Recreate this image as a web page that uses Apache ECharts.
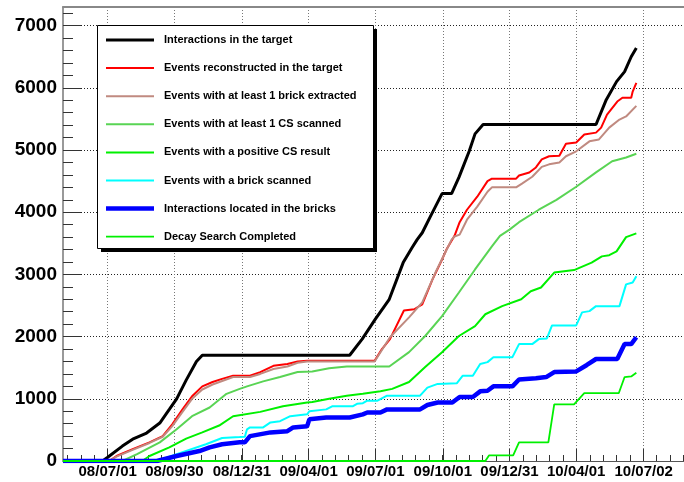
<!DOCTYPE html>
<html><head><meta charset="utf-8">
<script src="https://cdn.jsdelivr.net/npm/echarts@6/dist/echarts.min.js"></script>
<style>html,body{margin:0;padding:0;background:#fff}#c{width:684px;height:482px}</style>
</head><body><div id="c"></div>
<script>
// ---------- DATA ----------
const seriesNames = [
  'Interactions in the target',
  'Events reconstructed in the target',
  'Events with at least 1 brick extracted',
  'Events with at least 1 CS scanned',
  'Events with a positive CS result',
  'Events with a brick scanned',
  'Interactions located in the bricks',
  'Decay Search Completed'
];
const xRange = ['2008-05-01', '2010-08-26'];
const xTickDates = ['2008-07-01','2008-09-30','2008-12-31','2009-04-01','2009-07-01','2009-10-01','2009-12-31','2010-04-01','2010-07-02'];
const yTickValues = [0,1000,2000,3000,4000,5000,6000,7000];
const yMax = 7300;

const interactionsTarget = [
  ['2008-05-01',0],['2008-06-24',0],['2008-07-01',60],['2008-07-21',240],['2008-08-04',350],['2008-08-23',450],
  ['2008-09-10',610],['2008-09-23',830],['2008-10-03',1000],['2008-10-16',1300],['2008-10-30',1600],['2008-11-07',1700],
  ['2009-05-27',1700],['2009-06-13',1960],['2009-07-01',2280],['2009-07-20',2600],['2009-08-08',3190],['2009-08-20',3430],
  ['2009-08-27',3560],['2009-09-03',3670],['2009-09-14',3930],['2009-09-30',4300],['2009-10-13',4300],['2009-10-23',4560],
  ['2009-11-06',4980],['2009-11-14',5260],['2009-11-25',5410],['2010-04-28',5410],['2010-05-12',5810],['2010-05-26',6100],
  ['2010-06-06',6260],['2010-06-15',6500],['2010-06-22',6640]
];
const reconstructed = [
  ['2008-05-01',0],['2008-07-03',0],['2008-07-13',80],['2008-08-04',190],['2008-08-27',300],['2008-09-14',400],
  ['2008-09-27',590],['2008-10-11',830],['2008-10-24',1040],['2008-11-07',1200],['2008-11-21',1270],['2008-12-04',1320],
  ['2008-12-19',1370],['2009-01-11',1370],['2009-01-25',1430],['2009-02-12',1530],['2009-03-03',1560],['2009-03-17',1600],
  ['2009-03-30',1610],['2009-06-30',1610],['2009-07-10',1800],['2009-07-21',1960],['2009-08-09',2420],['2009-08-23',2440],
  ['2009-09-03',2520],['2009-09-17',2920],['2009-09-30',3240],['2009-10-06',3400],['2009-10-17',3620],['2009-10-24',3840],
  ['2009-11-03',4040],['2009-11-17',4250],['2009-12-01',4500],['2009-12-07',4540],['2010-01-09',4540],['2010-01-13',4590],
  ['2010-01-27',4640],['2010-02-05',4720],['2010-02-13',4850],['2010-02-23',4900],['2010-03-09',4910],['2010-03-18',5100],
  ['2010-04-01',5120],['2010-04-12',5250],['2010-04-28',5280],['2010-05-05',5360],['2010-05-13',5570],['2010-05-27',5780],
  ['2010-06-03',5840],['2010-06-15',5840],['2010-06-17',5940],['2010-06-22',6080]
];
const brickExtracted = [
  ['2008-05-01',0],['2008-07-03',0],['2008-07-13',70],['2008-08-04',180],['2008-08-27',290],['2008-09-14',390],
  ['2008-09-27',560],['2008-10-11',790],['2008-10-24',1000],['2008-11-07',1150],['2008-11-21',1230],['2008-12-19',1350],
  ['2009-01-11',1350],['2009-01-25',1400],['2009-02-12',1480],['2009-03-03',1520],['2009-03-17',1580],['2009-03-30',1600],
  ['2009-06-30',1600],['2009-07-21',1990],['2009-08-16',2310],['2009-09-03',2550],['2009-09-21',3030],['2009-10-13',3560],
  ['2009-10-17',3610],['2009-10-24',3640],['2009-11-03',3880],['2009-11-17',4090],['2009-12-01',4330],['2009-12-07',4400],
  ['2010-01-09',4400],['2010-01-17',4460],['2010-01-31',4570],['2010-02-13',4730],['2010-02-23',4770],['2010-03-09',4800],
  ['2010-03-18',4900],['2010-04-01',4980],['2010-04-19',5140],['2010-05-02',5170],['2010-05-16',5360],['2010-05-30',5490],
  ['2010-06-08',5540],['2010-06-22',5710]
];
const csScanned = [
  ['2008-05-01',0],['2008-07-21',0],['2008-08-10',110],['2008-09-10',300],['2008-10-03',510],['2008-10-24',720],
  ['2008-11-17',860],['2008-12-10',1080],['2008-12-28',1160],['2009-01-07',1200],['2009-01-29',1280],['2009-02-21',1350],
  ['2009-03-17',1430],['2009-04-06',1440],['2009-04-29',1490],['2009-05-23',1520],['2009-07-20',1520],['2009-08-16',1750],
  ['2009-09-07',2010],['2009-09-30',2330],['2009-10-23',2710],['2009-11-14',3080],['2009-12-07',3450],['2009-12-18',3620],
  ['2009-12-31',3720],['2010-01-13',3840],['2010-02-09',4040],['2010-03-05',4200],['2010-04-01',4410],['2010-04-28',4640],
  ['2010-05-20',4820],['2010-06-08',4880],['2010-06-22',4940]
];
const positiveCS = [
  ['2008-05-01',0],['2008-08-17',0],['2008-08-27',80],['2008-09-23',220],['2008-10-16',360],['2008-11-07',460],
  ['2008-11-30',570],['2008-12-19',720],['2009-01-25',790],['2009-02-25',880],['2009-03-30',940],['2009-04-06',950],
  ['2009-04-29',1000],['2009-05-23',1050],['2009-06-14',1080],['2009-07-08',1120],['2009-07-24',1160],['2009-08-16',1270],
  ['2009-09-07',1510],['2009-09-30',1750],['2009-10-23',2010],['2009-11-14',2170],['2009-11-28',2360],['2009-12-21',2490],
  ['2010-01-16',2600],['2010-01-29',2730],['2010-02-12',2790],['2010-03-02',3030],['2010-03-29',3070],['2010-04-22',3190],
  ['2010-05-06',3290],['2010-05-16',3310],['2010-05-26',3370],['2010-06-08',3600],['2010-06-22',3660]
];
const brickScanned = [
  ['2008-05-01',0],['2008-09-06',0],['2008-10-03',110],['2008-11-12',270],['2008-12-04',370],['2008-12-28',385],
  ['2009-01-04',390],['2009-01-07',510],['2009-01-11',540],['2009-01-29',540],['2009-02-08',620],['2009-02-21',640],
  ['2009-03-07',720],['2009-03-30',750],['2009-04-02',800],['2009-04-25',830],['2009-05-03',880],['2009-05-31',880],
  ['2009-06-06',920],['2009-06-14',930],['2009-06-20',970],['2009-07-04',970],['2009-07-17',1050],['2009-08-31',1050],
  ['2009-09-10',1180],['2009-09-24',1240],['2009-10-20',1250],['2009-10-28',1370],['2009-11-11',1370],['2009-11-21',1560],
  ['2009-12-01',1590],['2009-12-09',1670],['2010-01-04',1670],['2010-01-13',1880],['2010-01-31',1880],['2010-02-09',1960],
  ['2010-02-20',1970],['2010-02-27',2180],['2010-04-01',2180],['2010-04-09',2390],['2010-04-19',2410],['2010-04-28',2490],
  ['2010-05-30',2490],['2010-06-08',2840],['2010-06-17',2870],['2010-06-22',2970]
];
const locatedBricks = [
  ['2008-05-01',0],['2008-09-06',0],['2008-10-03',80],['2008-11-03',160],['2008-11-17',220],['2008-12-04',270],
  ['2008-12-28',300],['2009-01-04',300],['2009-01-11',400],['2009-02-08',460],['2009-03-03',480],['2009-03-11',540],
  ['2009-03-30',560],['2009-04-02',670],['2009-04-25',700],['2009-05-27',700],['2009-06-14',750],['2009-06-20',780],
  ['2009-07-08',780],['2009-07-17',830],['2009-08-31',830],['2009-09-10',900],['2009-09-24',940],['2009-10-14',940],
  ['2009-10-24',1030],['2009-11-11',1030],['2009-11-21',1120],['2009-12-01',1130],['2009-12-09',1200],['2010-01-04',1200],
  ['2010-01-13',1310],['2010-02-05',1330],['2010-02-19',1350],['2010-03-02',1430],['2010-04-01',1440],['2010-04-15',1540],
  ['2010-04-28',1640],['2010-05-27',1640],['2010-06-06',1880],['2010-06-15',1880],['2010-06-22',1990]
];
const decaySearch = [
  ['2008-05-01',0],['2009-11-28',0],['2009-12-03',90],['2010-01-05',90],['2010-01-13',300],['2010-02-22',300],
  ['2010-03-02',910],['2010-03-29',910],['2010-04-12',1090],['2010-05-29',1090],['2010-06-06',1350],['2010-06-15',1360],
  ['2010-06-22',1420]
];

// ---------- STYLE ----------
const seriesData = [interactionsTarget, reconstructed, brickExtracted, csScanned, positiveCS, brickScanned, locatedBricks, decaySearch];
const seriesColors = ['#000000','#ff0000','#c08a80','#59d454','#00f000','#00ffff','#0000ff','#00f000'];
const seriesWidths = [3, 2, 2, 2, 2, 2, 4.5, 1.8];

const ts = d => Date.parse(d + 'T00:00:00Z');
const tMin = ts(xRange[0]), tMax = ts(xRange[1]);
const majorTs = xTickDates.map(ts);
const DAY = 86400000;
const minorStep = 365.25 / 4 / 5 * DAY;
const minorTs = [];
for (let t = majorTs[0]; t >= tMin; t -= minorStep) minorTs.push(t);
for (let t = majorTs[0] + minorStep; t <= tMax; t += minorStep) minorTs.push(t);
const yMinor = [];
for (let v = 200; v <= yMax; v += 200) yMinor.push(v);

const pad = n => (n < 10 ? '0' : '') + n;
const fmtDate = v => { const d = new Date(v); return String(d.getUTCFullYear()).slice(2) + '/' + pad(d.getUTCMonth() + 1) + '/' + pad(d.getUTCDate()); };

const FONT = '"Liberation Sans", Arial, Helvetica, sans-serif';
const axisGray = '#777';

const chart = echarts.init(document.getElementById('c'), null, {renderer: 'canvas'});
chart.setOption({
  animation: false,
  backgroundColor: '#fff',
  grid: {left: 63, top: 7, right: 0, bottom: 21, containLabel: false},
  xAxis: [
    {
      type: 'value', min: tMin, max: tMax, position: 'bottom',
      axisLine: {show: true, onZero: false, lineStyle: {color: '#555', width: 1}},
      axisTick: {show: true, inside: true, length: 12, customValues: majorTs, lineStyle: {color: '#333'}},
      axisLabel: {show: true, customValues: majorTs, formatter: fmtDate, fontSize: 15, fontWeight: 'bold', color: '#000', fontFamily: FONT, margin: 3},
      splitLine: {show: true, lineStyle: {type: [1, 2], color: '#777', width: 1}}
    },
    {
      type: 'value', min: tMin, max: tMax, position: 'bottom',
      axisLine: {show: false},
      axisTick: {show: true, inside: true, length: 6, customValues: minorTs, lineStyle: {color: '#333'}},
      axisLabel: {show: false},
      splitLine: {show: false}
    },
    {
      type: 'value', min: tMin, max: tMax, position: 'top',
      axisLine: {show: true, onZero: false, lineStyle: {color: '#888', width: 2}},
      axisTick: {show: false}, axisLabel: {show: false}, splitLine: {show: false}
    }
  ],
  yAxis: [
    {
      type: 'value', min: 0, max: yMax, position: 'left',
      axisLine: {show: true, onZero: false, lineStyle: {color: axisGray, width: 1.5}},
      axisTick: {show: true, inside: true, length: 18, customValues: yTickValues, lineStyle: {color: '#333'}},
      axisLabel: {show: true, customValues: yTickValues, formatter: v => String(v), fontSize: 19, fontWeight: 'bold', color: '#000', fontFamily: FONT, margin: 6},
      splitLine: {show: true, lineStyle: {type: [1, 2], color: '#222', width: 1}}
    },
    {
      type: 'value', min: 0, max: yMax, position: 'left',
      axisLine: {show: false},
      axisTick: {show: true, inside: true, length: 10, customValues: yMinor, lineStyle: {color: '#333'}},
      axisLabel: {show: false}, splitLine: {show: false}
    }
  ],
  legend: {
    show: true, orient: 'vertical', left: 106, top: 33, padding: 0,
    itemWidth: 48, itemHeight: 14, itemGap: 14.1, z: 20,
    symbolKeepAspect: true,
    textStyle: {fontSize: 11, fontWeight: 'bold', color: '#000', fontFamily: FONT, padding: [0, 0, 0, 5], lineHeight: 14},
    data: seriesNames.map((n, i) => ({name: n, icon: 'path://M0,0H48V' + seriesWidths[i] + 'H0Z'}))
  },
  graphic: [
    {type: 'rect', z: 10, shape: {x: 101, y: 29, width: 276, height: 223}, style: {fill: '#000'}},
    {type: 'rect', z: 11, shape: {x: 97.5, y: 25.5, width: 276, height: 223}, style: {fill: '#fff', stroke: '#000', lineWidth: 1}}
  ],
  series: seriesNames.map((name, i) => ({
    name: name, type: 'line', xAxisIndex: 0, yAxisIndex: 0,
    symbol: 'none', showSymbol: false, smooth: false,
    data: seriesData[i].map(p => [ts(p[0]), p[1]]),
    lineStyle: {color: seriesColors[i], width: seriesWidths[i]},
    itemStyle: {color: seriesColors[i]},
    emphasis: {disabled: true},
    z: 2 + i * 0.01
  }))
});
</script>
</body></html>
